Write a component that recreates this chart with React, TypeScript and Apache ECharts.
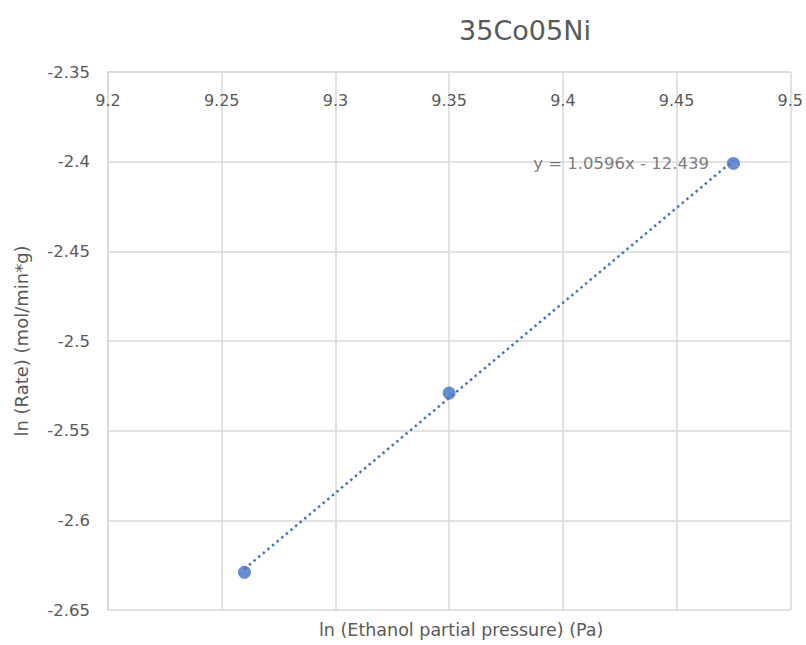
import React, { useEffect, useRef } from "react";
import * as echarts from "echarts";

const chartTitle = "35Co05Ni";
const lnPressure = [9.26, 9.35, 9.475];
const lnRate = [-2.629, -2.529, -2.401];
const trendSlope = 1.0596;
const trendIntercept = -12.439;
const xTicks = { min: 9.2, max: 9.5, interval: 0.05 };
const yTicks = { min: -2.65, max: -2.35, interval: 0.05 };
const xName = "ln (Ethanol partial pressure) (Pa)";
const yName = "ln (Rate) (mol/min*g)";

const FONT = "DejaVu Sans";
const TEXT = "#595959";
const GRID = "#d9d9d9";
const BLUE = "#4472c4";

export default function App() {
  const ref = useRef<HTMLDivElement>(null);
  useEffect(() => {
    if (!ref.current) return;
    const chart = echarts.init(ref.current, undefined, { renderer: "svg" });
    const xs = [Math.min(...lnPressure), Math.max(...lnPressure)];
    const trend = xs.map((x) => [x, trendSlope * x + trendIntercept]);
    const eq = `y = ${trendSlope}x - ${Math.abs(trendIntercept)}`;
    const points = lnPressure.map((x, i) => {
      const item: any = { value: [x, lnRate[i]] };
      if (i === lnPressure.length - 1) {
        item.label = {
          show: true,
          position: "left",
          distance: 18,
          formatter: eq,
          color: TEXT,
          fontFamily: FONT,
          fontSize: 16.5,
        };
      }
      return item;
    });
    chart.setOption({
      animation: false,
      backgroundColor: "#ffffff",
      title: {
        text: chartTitle,
        left: 520,
        top: 12,
        textAlign: "center",
        textStyle: { color: TEXT, fontFamily: FONT, fontSize: 27, fontWeight: "normal" },
      },
      grid: { left: 108, right: 14, top: 72, bottom: 35 },
      xAxis: [
        {
          type: "value",
          position: "top",
          min: xTicks.min,
          max: xTicks.max,
          interval: xTicks.interval,
          axisLine: { show: true, onZero: false, lineStyle: { color: GRID, width: 1.5 } },
          axisTick: { show: false },
          axisLabel: {
            inside: true,
            margin: 20,
            color: TEXT,
            fontFamily: FONT,
            fontSize: 16,
            formatter: (v: number) => String(+v.toFixed(2)),
          },
          splitLine: { show: true, lineStyle: { color: GRID, width: 1.5 } },
        },
        {
          type: "value",
          position: "bottom",
          min: xTicks.min,
          max: xTicks.max,
          interval: xTicks.interval,
          name: xName,
          nameLocation: "middle",
          nameGap: 11,
          nameTextStyle: { color: TEXT, fontFamily: FONT, fontSize: 17.5, padding: [0, 0, 0, 24] },
          axisLine: { show: false },
          axisTick: { show: false },
          axisLabel: { show: false },
          splitLine: { show: false },
        },
      ],
      yAxis: {
        type: "value",
        min: yTicks.min,
        max: yTicks.max,
        interval: yTicks.interval,
        name: yName,
        nameLocation: "middle",
        nameGap: 78,
        nameTextStyle: { color: TEXT, fontFamily: FONT, fontSize: 18 },
        axisLine: { show: true, onZero: false, lineStyle: { color: GRID, width: 1.5 } },
        axisTick: { show: false },
        axisLabel: {
          margin: 18,
          color: TEXT,
          fontFamily: FONT,
          fontSize: 16.5,
          formatter: (v: number) => String(+v.toFixed(2)),
        },
        splitLine: { show: true, lineStyle: { color: GRID, width: 1.5 } },
      },
      series: [
        {
          type: "line",
          data: trend,
          xAxisIndex: 0,
          symbol: "none",
          lineStyle: { color: BLUE, width: 2.5, type: [2.5, 3.5] },
          z: 2,
        },
        {
          type: "scatter",
          data: points,
          xAxisIndex: 0,
          symbol: "circle",
          symbolSize: 13,
          itemStyle: { color: BLUE },
          z: 3,
        },
      ],
    });
    return () => chart.dispose();
  }, []);
  return (
    <div
      ref={ref}
      style={{ position: "fixed", left: 0, top: 0, width: 806, height: 645, background: "#fff" }}
    />
  );
}
